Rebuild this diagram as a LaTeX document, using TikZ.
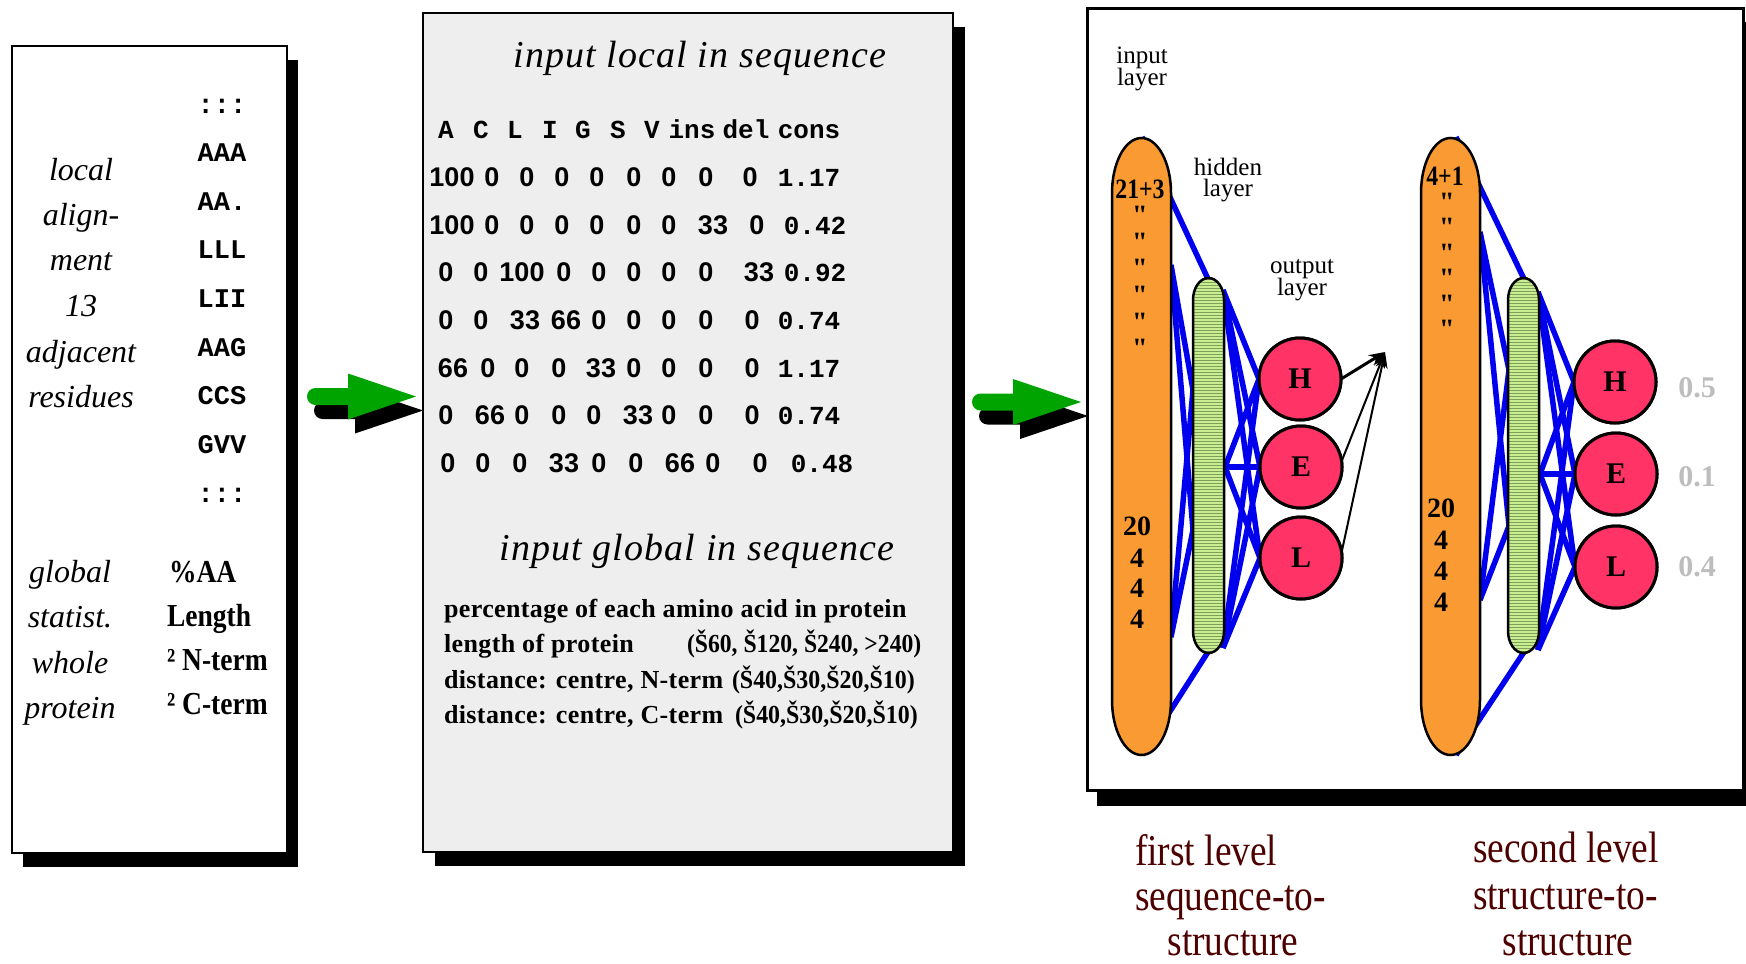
\documentclass[tikz,border=0pt]{standalone}
\usepackage{fontspec}
\usepackage{graphicx}
\setmainfont{Liberation Serif}
\newfontfamily\monofam{Liberation Mono}
\newfontfamily\sansfam{Liberation Sans}
\newfontfamily\plainserif{Liberation Serif}[Ligatures=Common]
\usetikzlibrary{arrows.meta,patterns}
\definecolor{boxgray}{HTML}{EEEEEE}
\definecolor{arrowgreen}{HTML}{00A400}
\definecolor{layerorange}{HTML}{FA9A32}
\definecolor{unitpink}{HTML}{FF3366}
\definecolor{hiddengreen}{HTML}{C9EE92}
\definecolor{hatchgreen}{HTML}{7FA05A}
\definecolor{netblue}{HTML}{0000EE}
\definecolor{levelred}{HTML}{4D0000}
\definecolor{probgray}{HTML}{BDBDBD}
\newcommand{\fs}[1]{\fontsize{#1}{#1}\selectfont}
\newcommand{\narrow}[2][0.86]{\scalebox{#1}[1]{#2}}

\begin{document}
\begin{tikzpicture}[x=1pt,y=-1pt,
  every node/.style={inner sep=0pt,outer sep=0pt},
  panel/.style={draw=black,line width=2.5pt},
  itlabel/.style={font={\fs{32}\itshape},anchor=base},
  seqcode/.style={font={\fs{27}\monofam\bfseries},anchor=base},
  statlabel/.style={font={\fs{32}\bfseries},anchor=base west},
  title/.style={font={\fs{38}\itshape\addfontfeature{LetterSpace=3}},anchor=base},
  hdr/.style={font={\fs{26}\monofam\bfseries},anchor=base},
  cnt/.style={font={\fs{27}\sansfam\bfseries},anchor=base},
  dec/.style={font={\fs{26}\monofam\bfseries},anchor=base},
  glob/.style={font={\fs{26}\bfseries\addfontfeature{LetterSpace=1.5}},anchor=base west},
  globr/.style={font={\fs{26}\bfseries},anchor=base west},
  layerlbl/.style={font=\fs{25},anchor=base},
  unit/.style={circle,draw=black,line width=3pt,fill=unitpink,minimum size=82pt,font={\fs{30}\bfseries}},
  link/.style={draw=netblue,line width=5.5pt},
  capsule/.style={draw=black,line width=2.5pt,fill=layerorange},
  hiddenbar/.style={draw=black,line width=2.5pt,preaction={fill=hiddengreen},pattern=horizontal lines,pattern color=hatchgreen},
  incount/.style={font={\fs{28}\bfseries},anchor=base},
  ditto/.style={font={\fs{28}\plainserif\bfseries},anchor=north},
  prob/.style={font={\fs{30}\bfseries},text=probgray},
  level/.style={font=\fs{44},text=levelred,anchor=base west},
  fatarrow/.pic={
    \foreach \dx/\dy/\col in {7/14/black,0/0/arrowgreen}{
      \fill[\col,shift={(\dx,\dy)}] (8.5,-8.5) -- (41,-8.5) -- (41,-23) -- (109,0)
        -- (41,23) -- (41,8.5) -- (8.5,8.5) arc[start angle=90,end angle=270,radius=8.5] -- cycle;
    }
  }
]
\useasboundingbox (0,0) rectangle (1746,964);
\fill[white] (0,0) rectangle (1746,964);

% ---------- left panel: alignment window and global statistics ----------
\fill[black] (23,60) rectangle (298,867);
\draw[panel,fill=white] (12,46) rectangle (287,853);

\foreach \t/\yy [count=\k] in {local/180,align-/225,ment/270,13/316,adjacent/362,residues/407}
  {\node[itlabel] (loc\k) at (81,\yy) {\t};}
\foreach \t/\yy [count=\k] in {:::/113,AAA/161,AA./210,LLL/258,LII/307,AAG/356,CCS/404,GVV/453,:::/502}
  {\node[seqcode] (s\k) at (222,\yy) {\t};}

\foreach \t/\yy [count=\k] in {global/582,statist./627,whole/673,protein/718}
  {\node[itlabel] (glo\k) at (70,\yy) {\t};}
\node[statlabel] (st1) at (169,582) {\narrow{\%AA}};
\node[statlabel] (st2) at (167,626) {\narrow{Length}};
\node[statlabel] (st3) at (167,670) {\narrow{²~N-term}};
\node[statlabel] (st4) at (167,714) {\narrow{²~C-term}};

% ---------- middle panel: input profile ----------
\fill[black] (435,27) rectangle (965,866);
\draw[panel,fill=boxgray] (423,13) rectangle (953,852);

\node[title] (tloc) at (700,67) {input local in sequence};
\foreach \xx/\t [count=\k] in {446/A,481/C,515/L,550/I,583/G,618/S,652/V,692/ins,746/del,809/cons}
  {\node[hdr] (h\k) at (\xx,138) {\t};}
\foreach \yy/\cells [count=\r] in {
  186/{452/100,492/0,527/0,562/0,597/0,634/0,669/0,706/0,750/0},
  234/{452/100,492/0,527/0,562/0,597/0,634/0,669/0,713/33,757/0},
  281/{446/0,481/0,522/100,564/0,599/0,634/0,669/0,706/0,759/33},
  329/{446/0,481/0,525/33,566/66,599/0,634/0,669/0,706/0,752/0},
  377/{453/66,488/0,522/0,559/0,601/33,634/0,669/0,706/0,752/0},
  424/{446/0,490/66,522/0,559/0,594/0,638/33,669/0,706/0,752/0},
  472/{448/0,483/0,520/0,564/33,599/0,636/0,680/66,713/0,760/0}}
  {\foreach \xx/\v [count=\c] in \cells {\node[cnt] (v\r-\c) at (\xx,\yy) {\v};}}
\foreach \xx/\yy/\v [count=\k] in {809/186/1.17,815/234/0.42,815/281/0.92,809/329/0.74,809/377/1.17,809/424/0.74,822/472/0.48}
  {\node[dec] (d\k) at (\xx,\yy) {\v};}

\node[title] (tglo) at (697,560) {input global in sequence};
\node[glob] (p1) at (444,617) {percentage of each amino acid in protein};
\node[glob] (p2) at (444,652) {length of protein};
\node[globr] (p2r) at (687,652) {\narrow[0.91]{(Š60, Š120, Š240, >240)}};
\node[glob] (p3) at (444,688) {distance: centre, N-term};
\node[globr] (p3r) at (732,688) {\narrow[0.92]{(Š40,Š30,Š20,Š10)}};
\node[glob] (p4) at (444,723) {distance: centre, C-term};
\node[globr] (p4r) at (735,723) {\narrow[0.92]{(Š40,Š30,Š20,Š10)}};

% ---------- block arrows between the panels ----------
\pic (arrowA) at (307,396.5) {fatarrow};
\pic (arrowB) at (972,402) {fatarrow};

% ---------- right panel: two-level network ----------
\fill[black] (1097,22) rectangle (1760,806);
\draw[panel,line width=3pt,fill=white] (1087,8) rectangle (1743,790);

\node[layerlbl] (inl1) at (1142,63) {input};
\node[layerlbl] (inl2) at (1142,85) {layer};
\node[layerlbl] (hdl1) at (1228,175) {hidden};
\node[layerlbl] (hdl2) at (1228,196) {layer};
\node[layerlbl] (oul1) at (1302,273) {output};
\node[layerlbl] (oul2) at (1302,295) {layer};

% output units
\node[unit] (H1) at (1300,379) {H};
\node[unit] (E1) at (1301,467) {E};
\node[unit] (L1) at (1301,558) {L};
\node[unit] (H2) at (1615,382) {H};
\node[unit] (E2) at (1616,474) {E};
\node[unit] (L2) at (1616,567) {L};

% attachment points, first network
\coordinate (i1top) at (1142,137);
\coordinate (i1up)  at (1171,265);
\coordinate (i1lo)  at (1171,637);
\coordinate (i1bot) at (1142,755);
\coordinate (h1top) at (1208,279);
\coordinate (h1lu)  at (1193,390);
\coordinate (h1ll)  at (1193,530);
\coordinate (h1bot) at (1208,652);
\coordinate (h1ru)  at (1223,290);
\coordinate (h1rm)  at (1225,467);
\coordinate (h1rl)  at (1223,648);
% attachment points, second network
\coordinate (i2top) at (1456,137);
\coordinate (i2up)  at (1480,232);
\coordinate (i2lo)  at (1480,600);
\coordinate (i2bot) at (1456,755);
\coordinate (h2top) at (1524,279);
\coordinate (h2lu)  at (1509,370);
\coordinate (h2ll)  at (1509,526);
\coordinate (h2bot) at (1524,652);
\coordinate (h2ru)  at (1538,292);
\coordinate (h2rm)  at (1540,474);
\coordinate (h2rl)  at (1538,650);

% weights
\draw[link] (i1top) -- (h1top);
\draw[link] (i1bot) -- (h1bot);
\draw[link] (i1up) -- (h1lu);
\draw[link] (i1up) -- (h1ll);
\draw[link] (i1lo) -- (h1lu);
\draw[link] (i1lo) -- (h1ll);
\foreach \s in {h1ru,h1rm,h1rl}
  \foreach \t in {H1,E1,L1}
    \draw[link] (\s) -- (\t.west);

\draw[link] (i2top) -- (h2top);
\draw[link] (i2bot) -- (h2bot);
\draw[link] (i2up) -- (h2lu);
\draw[link] (i2up) -- (h2ll);
\draw[link] (i2lo) -- (h2lu);
\draw[link] (i2lo) -- (h2ll);
\foreach \s in {h2ru,h2rm,h2rl}
  \foreach \t in {H2,E2,L2}
    \draw[link] (\s) -- (\t.west);

% input layers
\draw[capsule] (1112,193) arc[start angle=180,end angle=360,x radius=29.5,y radius=55]
  -- (1171,700) arc[start angle=0,end angle=180,x radius=29.5,y radius=55] -- cycle;
\draw[capsule] (1421,193) arc[start angle=180,end angle=360,x radius=29.5,y radius=55]
  -- (1480,700) arc[start angle=0,end angle=180,x radius=29.5,y radius=55] -- cycle;

% hidden layers
\draw[hiddenbar] (1193,300) arc[start angle=180,end angle=360,x radius=15.5,y radius=22]
  -- (1224,631) arc[start angle=0,end angle=180,x radius=15.5,y radius=22] -- cycle;
\draw[hiddenbar] (1508,300) arc[start angle=180,end angle=360,x radius=15.5,y radius=22]
  -- (1539,631) arc[start angle=0,end angle=180,x radius=15.5,y radius=22] -- cycle;

% redraw units above the weights
\foreach \n/\xx/\yy/\t in {H1/1300/379/H,E1/1301/467/E,L1/1301/558/L,H2/1615/382/H,E2/1616/474/E,L2/1616/567/L}
  {\node[unit] (\n top) at (\xx,\yy) {\t};}

% input layer contents
\node[incount] (c1) at (1140,198) {\narrow[0.85]{21+3}};
\foreach \yy [count=\k] in {206,233,259,286,313,339}
  {\node[ditto] (q1\k) at (1140,\yy) {"};}
\foreach \t/\yy [count=\k] in {20/535,4/567,4/597,4/628}
  {\node[incount] (n1\k) at (1137,\yy) {\t};}

\node[incount] (c2) at (1445,185) {\narrow[0.85]{4+1}};
\foreach \yy [count=\k] in {193,218.5,244,269.5,295,320.5}
  {\node[ditto] (q2\k) at (1447,\yy) {"};}
\foreach \t/\yy [count=\k] in {20/517,4/549,4/580,4/611}
  {\node[incount] (n2\k) at (1441,\yy) {\t};}

% first-level outputs feed the second level
\coordinate (fan) at (1385,352);
\draw[line width=3pt,-{Stealth[length=16pt,width=12pt]}] (H1top.east) -- (fan);
\draw[line width=2pt,-{Stealth[length=16pt,width=12pt]}] (E1top.8) -- (fan);
\draw[line width=2pt,-{Stealth[length=16pt,width=12pt]}] (L1top.8) -- (fan);

% second-level outputs
\node[prob] (pH) at (1697,388) {0.5};
\node[prob] (pE) at (1697,477) {0.1};
\node[prob] (pL) at (1697,567) {0.4};

% captions
\node[level] (f1) at (1135,865) {\narrow[0.85]{first level}};
\node[level] (f2) at (1135,910) {\narrow[0.85]{sequence-to-}};
\node[level,anchor=base] (f3) at (1233,955) {\narrow[0.85]{structure}};
\node[level] (sl1) at (1473,862) {\narrow[0.85]{second level}};
\node[level] (sl2) at (1473,909) {\narrow[0.85]{structure-to-}};
\node[level,anchor=base] (sl3) at (1568,955) {\narrow[0.85]{structure}};
\end{tikzpicture}
\end{document}
